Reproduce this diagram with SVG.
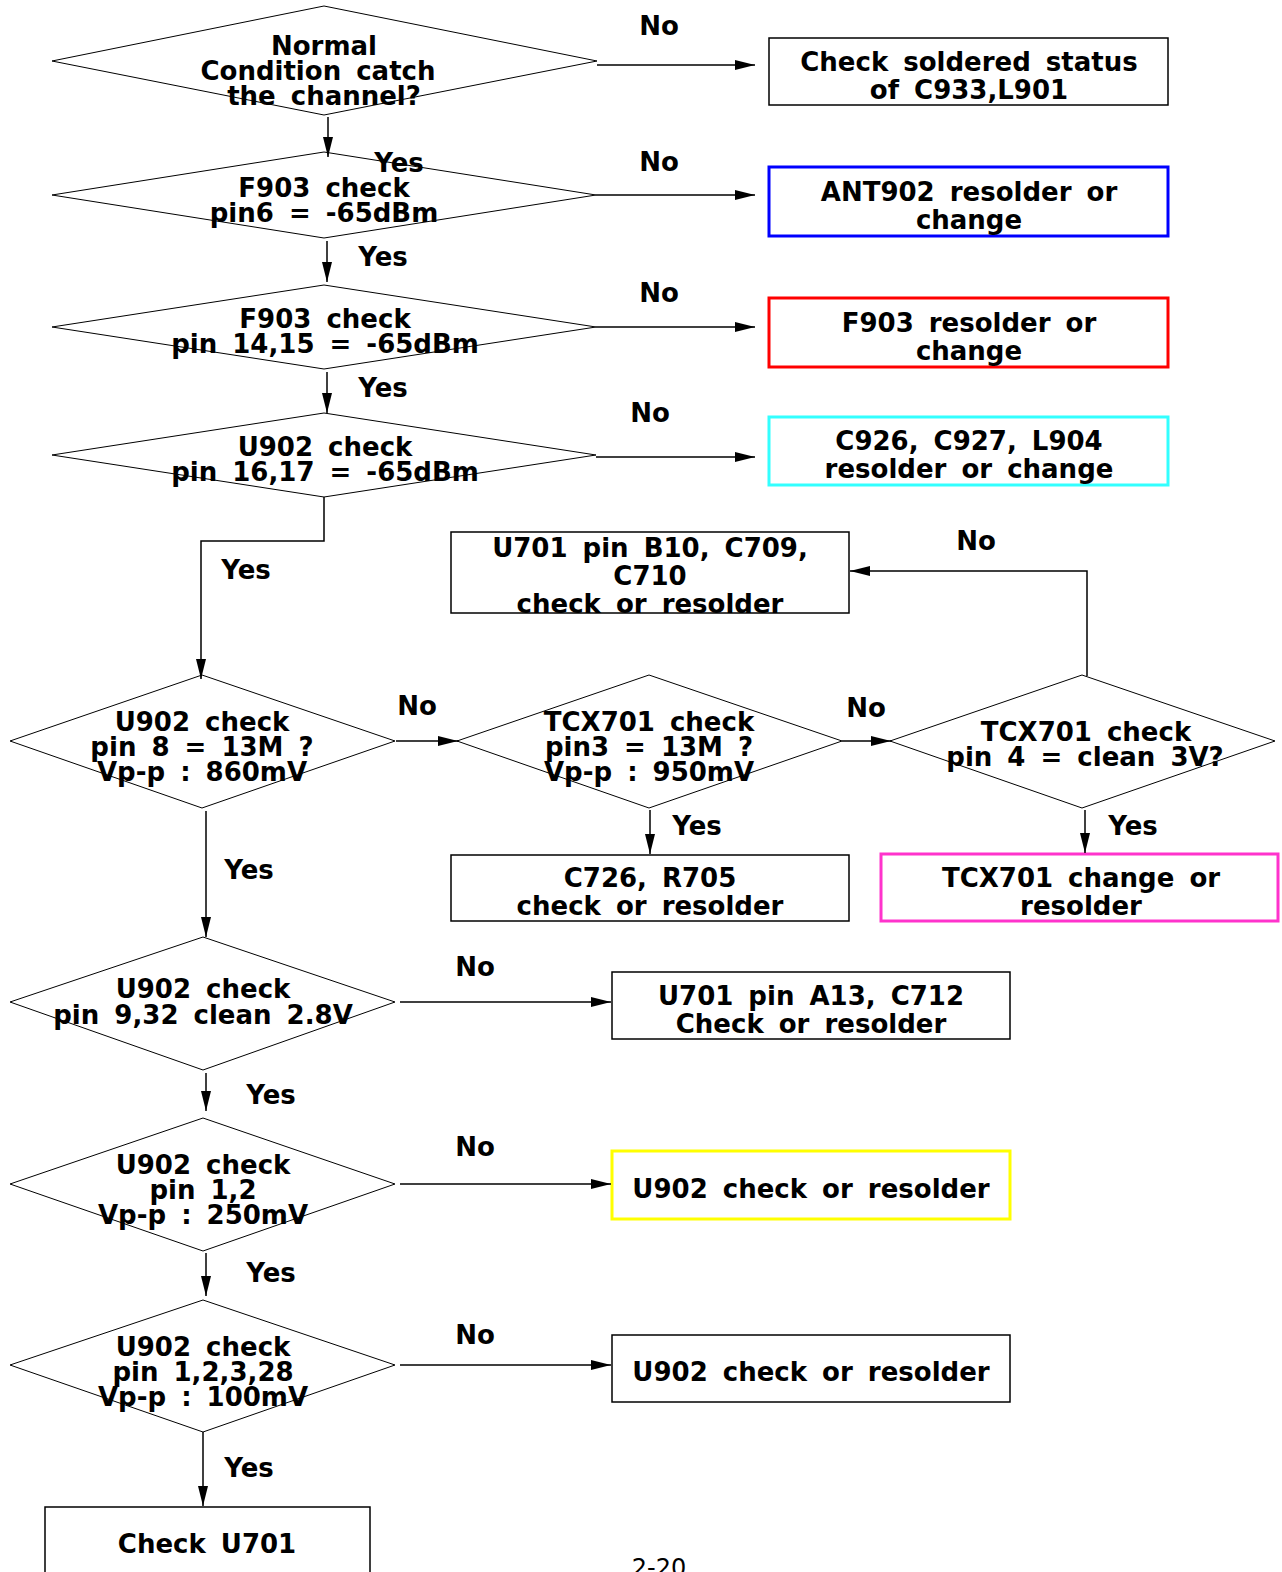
<svg xmlns="http://www.w3.org/2000/svg" width="1282" height="1572" viewBox="0 0 1282 1572">
<style>
text{font-family:"DejaVu Sans","Verdana",sans-serif;font-weight:bold;font-size:26px;fill:#000;word-spacing:6px}
.c{text-anchor:middle}
.dia{fill:#fff;stroke:#000;stroke-width:1}
.box{fill:#fff;stroke:#000;stroke-width:1.5}
.cb{fill:#fff;stroke-width:3}
.ln{fill:none;stroke:#000;stroke-width:1.5}
.pg{font-weight:normal;font-size:24px;word-spacing:0}
</style>
<defs>
<marker id="ah" markerUnits="userSpaceOnUse" markerWidth="22" markerHeight="12" refX="20" refY="5" orient="auto">
<path d="M0,0 L20,5 L0,10 z" fill="#000"/>
</marker>
</defs>
<rect width="1282" height="1572" fill="#fff"/>

<g id="d1">
<polygon class="dia" points="52,61 324,6 597,61 324,115"/>
<text x="324" y="55" class="c">Normal</text>
<text x="318" y="80" class="c">Condition catch</text>
<text x="324" y="105" class="c">the channel?</text>
</g>
<g id="b1">
<rect class="box" x="769" y="38" width="399" height="67"/>
<text x="969" y="71" class="c">Check soldered status</text>
<text x="969" y="99" class="c">of C933,L901</text>
</g>

<g id="d2">
<polygon class="dia" points="52,195 324,152 596,195 324,238"/>
<text x="324" y="197" class="c">F903 check</text>
<text x="324" y="222" class="c">pin6 = -65dBm</text>
</g>
<g id="b2">
<rect class="cb" x="769" y="167" width="399" height="69" stroke="#0000ff"/>
<text x="969" y="201" class="c">ANT902 resolder or</text>
<text x="969" y="229" class="c">change</text>
</g>

<g id="d3">
<polygon class="dia" points="52,327 324,285 596,327 324,369"/>
<text x="325" y="328" class="c">F903 check</text>
<text x="325" y="353" class="c">pin 14,15 = -65dBm</text>
</g>
<g id="b3">
<rect class="cb" x="769" y="298" width="399" height="69" stroke="#ff0000"/>
<text x="969" y="332" class="c">F903 resolder or</text>
<text x="969" y="360" class="c">change</text>
</g>

<g id="d4">
<polygon class="dia" points="52,455 324,413 596,455 324,497"/>
<text x="325" y="456" class="c">U902 check</text>
<text x="325" y="481" class="c">pin 16,17 = -65dBm</text>
</g>
<g id="b4">
<rect class="cb" x="769" y="417" width="399" height="68" stroke="#33ffff"/>
<text x="969" y="450" class="c">C926, C927, L904</text>
<text x="969" y="478" class="c">resolder or change</text>
</g>

<g id="b5">
<rect class="box" x="451" y="532" width="398" height="81"/>
<text x="650" y="557" class="c">U701 pin B10, C709,</text>
<text x="650" y="585" class="c">C710</text>
<text x="650" y="613" class="c">check or resolder</text>
</g>

<g id="d5">
<polygon class="dia" points="10,741 202,675 395,741 202,808"/>
<text x="202" y="731" class="c">U902 check</text>
<text x="202" y="756" class="c">pin 8 = 13M ?</text>
<text x="202" y="781" class="c">Vp-p : 860mV</text>
</g>
<g id="d6">
<polygon class="dia" points="457,741 649,675 842,741 649,808"/>
<text x="649" y="731" class="c">TCX701 check</text>
<text x="649" y="756" class="c">pin3 = 13M ?</text>
<text x="649" y="781" class="c">Vp-p : 950mV</text>
</g>
<g id="d7">
<polygon class="dia" points="890,741 1082,675 1275,741 1082,808"/>
<text x="1086" y="741" class="c">TCX701 check</text>
<text x="1085" y="766" class="c">pin 4 = clean 3V?</text>
</g>

<g id="b6">
<rect class="box" x="451" y="855" width="398" height="66"/>
<text x="650" y="887" class="c">C726, R705</text>
<text x="650" y="915" class="c">check or resolder</text>
</g>
<g id="b7">
<rect class="cb" x="881" y="854" width="397" height="67" stroke="#ff33cc"/>
<text x="1081" y="887" class="c">TCX701 change or</text>
<text x="1081" y="915" class="c">resolder</text>
</g>

<g id="d8">
<polygon class="dia" points="10,1002 203,937 395,1002 203,1070"/>
<text x="203" y="998" class="c">U902 check</text>
<text x="203" y="1024" class="c">pin 9,32 clean 2.8V</text>
</g>
<g id="b8">
<rect class="box" x="612" y="972" width="398" height="67"/>
<text x="811" y="1005" class="c">U701 pin A13, C712</text>
<text x="811" y="1033" class="c">Check or resolder</text>
</g>

<g id="d9">
<polygon class="dia" points="10,1184 203,1118 395,1184 203,1251"/>
<text x="203" y="1174" class="c">U902 check</text>
<text x="203" y="1199" class="c">pin 1,2</text>
<text x="203" y="1224" class="c">Vp-p : 250mV</text>
</g>
<g id="b9">
<rect class="cb" x="612" y="1151" width="398" height="68" stroke="#ffff00"/>
<text x="811" y="1198" class="c">U902 check or resolder</text>
</g>

<g id="d10">
<polygon class="dia" points="10,1365 203,1300 395,1365 203,1432"/>
<text x="203" y="1356" class="c">U902 check</text>
<text x="203" y="1381" class="c">pin 1,2,3,28</text>
<text x="203" y="1406" class="c">Vp-p : 100mV</text>
</g>
<g id="b10">
<rect class="box" x="612" y="1335" width="398" height="67"/>
<text x="811" y="1381" class="c">U902 check or resolder</text>
</g>

<g id="b11">
<rect class="box" x="45" y="1507" width="325" height="80"/>
<text x="207" y="1553" class="c">Check U701</text>
</g>

<g id="connectors">
<line class="ln" x1="597" y1="65" x2="755" y2="65" marker-end="url(#ah)"/>
<line class="ln" x1="328" y1="117" x2="328" y2="157" marker-end="url(#ah)"/>
<line class="ln" x1="596" y1="195" x2="755" y2="195" marker-end="url(#ah)"/>
<line class="ln" x1="327" y1="241" x2="327" y2="282" marker-end="url(#ah)"/>
<line class="ln" x1="596" y1="327" x2="755" y2="327" marker-end="url(#ah)"/>
<line class="ln" x1="327" y1="372" x2="327" y2="413" marker-end="url(#ah)"/>
<line class="ln" x1="596" y1="457" x2="755" y2="457" marker-end="url(#ah)"/>
<polyline class="ln" points="324,497 324,541 201,541 201,679" marker-end="url(#ah)"/>
<line class="ln" x1="396" y1="741" x2="458" y2="741" marker-end="url(#ah)"/>
<line class="ln" x1="842" y1="741" x2="891" y2="741" marker-end="url(#ah)"/>
<polyline class="ln" points="1087,676 1087,571 850,571" marker-end="url(#ah)"/>
<line class="ln" x1="650" y1="810" x2="650" y2="854" marker-end="url(#ah)"/>
<line class="ln" x1="1085" y1="810" x2="1085" y2="853" marker-end="url(#ah)"/>
<line class="ln" x1="206" y1="811" x2="206" y2="937" marker-end="url(#ah)"/>
<line class="ln" x1="400" y1="1002" x2="611" y2="1002" marker-end="url(#ah)"/>
<line class="ln" x1="206" y1="1073" x2="206" y2="1111" marker-end="url(#ah)"/>
<line class="ln" x1="400" y1="1184" x2="611" y2="1184" marker-end="url(#ah)"/>
<line class="ln" x1="206" y1="1253" x2="206" y2="1296" marker-end="url(#ah)"/>
<line class="ln" x1="400" y1="1365" x2="611" y2="1365" marker-end="url(#ah)"/>
<line class="ln" x1="203" y1="1432" x2="203" y2="1506" marker-end="url(#ah)"/>
<text x="659" y="35" class="c">No</text>
<text x="399" y="172" class="c">Yes</text>
<text x="659" y="171" class="c">No</text>
<text x="383" y="266" class="c">Yes</text>
<text x="659" y="302" class="c">No</text>
<text x="383" y="397" class="c">Yes</text>
<text x="650" y="422" class="c">No</text>
<text x="246" y="579" class="c">Yes</text>
<text x="417" y="715" class="c">No</text>
<text x="866" y="717" class="c">No</text>
<text x="976" y="550" class="c">No</text>
<text x="697" y="835" class="c">Yes</text>
<text x="1133" y="835" class="c">Yes</text>
<text x="249" y="879" class="c">Yes</text>
<text x="475" y="976" class="c">No</text>
<text x="271" y="1104" class="c">Yes</text>
<text x="475" y="1156" class="c">No</text>
<text x="271" y="1282" class="c">Yes</text>
<text x="475" y="1344" class="c">No</text>
<text x="249" y="1477" class="c">Yes</text>
</g>

<text x="659" y="1576" class="c pg">2-20</text>
</svg>
